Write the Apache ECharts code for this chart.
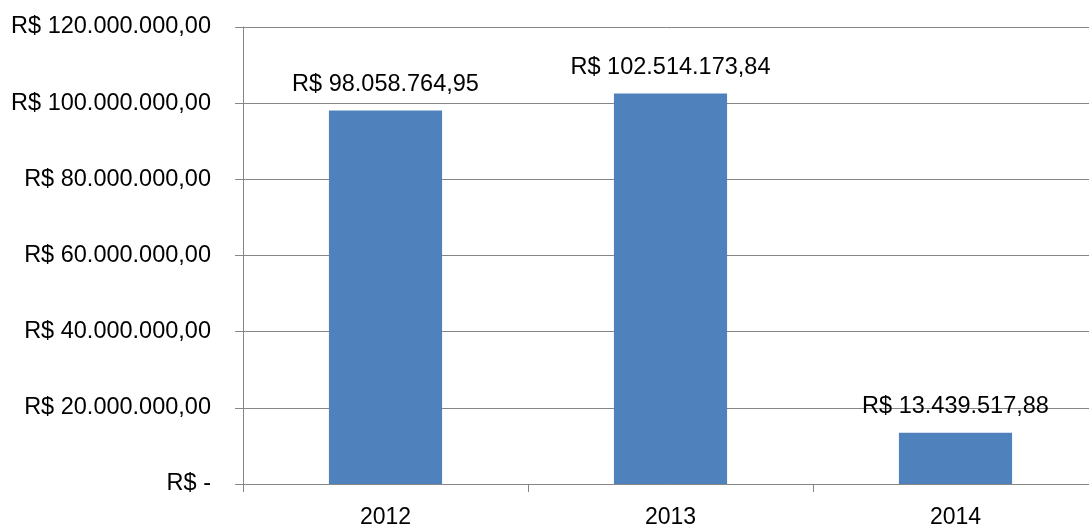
<!DOCTYPE html>
<html>
<head>
<meta charset="utf-8">
<script src="https://cdn.jsdelivr.net/npm/echarts@6/dist/echarts.min.js"></script>
<style>
html,body{margin:0;padding:0;background:#fff;}
#chart{width:1089px;height:529px;}
</style>
</head>
<body>
<div id="chart"></div>
<script>
var categories = ['2012', '2013', '2014'];
var values = [98058764.95, 102514173.84, 13439517.88];
var valueLabels = ['R$ 98.058.764,95', 'R$ 102.514.173,84', 'R$ 13.439.517,88'];
var yTickValues = [0, 20000000, 40000000, 60000000, 80000000, 100000000, 120000000];
var yTickLabels = ['R$ -', 'R$ 20.000.000,00', 'R$ 40.000.000,00', 'R$ 60.000.000,00', 'R$ 80.000.000,00', 'R$ 100.000.000,00', 'R$ 120.000.000,00'];

var FONT = '"Liberation Sans", Arial, sans-serif';
var chart = echarts.init(document.getElementById('chart'), null, {renderer: 'canvas'});
chart.setOption({
  animation: false,
  backgroundColor: '#ffffff',
  grid: {left: 243, width: 855, top: 27, height: 457, containLabel: false, outerBoundsMode: 'none'},
  xAxis: {
    type: 'category',
    data: categories,
    boundaryGap: true,
    axisLine: {show: true, lineStyle: {color: '#868686', width: 1}},
    axisTick: {show: true, length: 8, alignWithLabel: false, lineStyle: {color: '#868686'}},
    axisLabel: {color: '#000', fontFamily: FONT, fontSize: 23, margin: 22}
  },
  yAxis: {
    type: 'value',
    min: 0,
    max: 120000000,
    interval: 20000000,
    axisLine: {show: true, lineStyle: {color: '#868686', width: 1}},
    axisTick: {show: true, length: 8, lineStyle: {color: '#868686'}},
    splitLine: {show: true, lineStyle: {color: '#868686', width: 1}},
    axisLabel: {
      color: '#000', fontFamily: FONT, fontSize: 23.5, margin: 32,
      formatter: function (v) {
        var i = yTickValues.indexOf(v);
        return i >= 0 ? yTickLabels[i] : '';
      }
    }
  },
  series: [{
    type: 'bar',
    data: values,
    barWidth: '39.7%',
    itemStyle: {color: '#4F81BD'},
    label: {
      show: true,
      position: 'top',
      distance: 14,
      color: '#000',
      fontFamily: FONT,
      fontSize: 23.5,
      formatter: function (p) { return valueLabels[p.dataIndex]; }
    }
  }]
});
</script>
</body>
</html>
